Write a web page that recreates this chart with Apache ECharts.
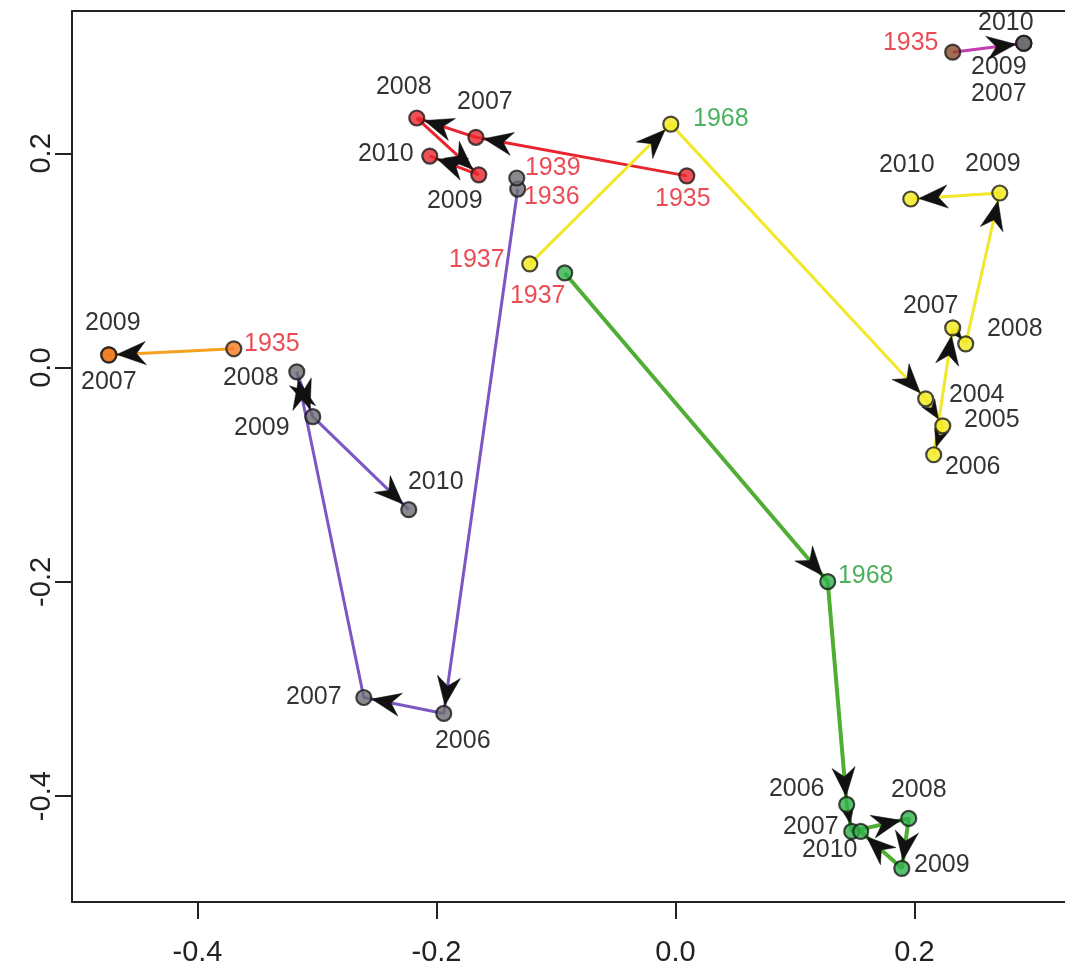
<!DOCTYPE html>
<html><head><meta charset="utf-8">
<script src="https://cdn.jsdelivr.net/npm/echarts@6/dist/echarts.min.js"></script>
<style>html,body{margin:0;padding:0;background:#fff;overflow:hidden}#c{width:1100px;height:967px}</style>
</head><body><div id="c"></div>
<script>
// ---------- data ----------
const xTickValues = [-0.4, -0.2, 0.0, 0.2];
const yTickValues = [-0.4, -0.2, 0.0, 0.2];

const redYears = ['1935', '2007', '2008', '2009', '2010'];
const redX = [0.0095, -0.167, -0.2165, -0.1646, -0.2056];
const redY = [0.179, 0.215, 0.233, 0.180, 0.1975];

const purpleYears = ['1936', '2006', '2007', '2008', '2009', '2010'];
const purpleX = [-0.132, -0.1939, -0.2608, -0.3169, -0.3035, -0.2232];
const purpleY = [0.1667, -0.3228, -0.3079, -0.0039, -0.0458, -0.1326];

const grayYears = ['1939'];
const grayX = [-0.1328];
const grayY = [0.177];

const orangeYears = ['1935', '2007', '2009'];
const orangeX = [-0.3696, -0.4742, -0.4742];
const orangeY = [0.0176, 0.0119, 0.0119];

const yellowYears = ['1937', '1968', '2004', '2005', '2006', '2007', '2008', '2009', '2010'];
const yellowX = [-0.1219, -0.0039, 0.2094, 0.2237, 0.2161, 0.232, 0.2429, 0.2714, 0.1969];
const yellowY = [0.0968, 0.2273, -0.0291, -0.0543, -0.0813, 0.0371, 0.0222, 0.163, 0.1574];

const greenYears = ['1937', '1968', '2006', '2007', '2008', '2009', '2010'];
const greenX = [-0.0927, 0.1274, 0.1433, 0.1475, 0.1952, 0.1894, 0.155];
const greenY = [0.0884, -0.1997, -0.4077, -0.4329, -0.4208, -0.4674, -0.4329];

const magentaYears = ['1935', '2007', '2009', '2010'];
const magentaX = [0.232, 0.2915, 0.2915, 0.2915];
const magentaY = [0.2945, 0.3028, 0.3028, 0.3028];

// ---------- layout / style (label offsets in px from dot centre) ----------
const redLabelOffsets = [[-4, 23], [9, -35], [-13, -31], [-24, 26], [-44, -2]];
const purpleLabelOffsets = [[34, 8], [19, 28], [-50, 0], [-46, 6], [-51, 11], [27, -28]];
const grayLabelOffsets = [[36, -10]];
const orangeLabelOffsets = [[38, -5], [0, 27], [4, -32]];
const yellowLabelOffsets = [[-53, -4], [50, -5], [51, -4], [49, -6], [39, 12], [-22, -22], [49, -15], [-7, -29], [-4, -34]];
const greenLabelOffsets = [[-27, 23], [38, -5], [-50, -15], [-41, -4], [10, -28], [40, -3], [-31, 19]];
const magentaLabelOffsets = [[-42, -9], [-25, 51], [-25, 24], [-18, -20]];

const FONT = "'Liberation Sans', Arial, Helvetica, sans-serif";
const GRAY_DOT = '#6d6d72';

const groups = [
  {years: redYears, xs: redX, ys: redY, offs: redLabelOffsets, line: '#e8252e', width: 3, fill: ['#e8252e']},
  {years: purpleYears, xs: purpleX, ys: purpleY, offs: purpleLabelOffsets, line: '#7c57c4', width: 3, fill: [GRAY_DOT]},
  {years: grayYears, xs: grayX, ys: grayY, offs: grayLabelOffsets, line: null, width: 0, fill: [GRAY_DOT]},
  {years: orangeYears, xs: orangeX, ys: orangeY, offs: orangeLabelOffsets, line: '#f4a020', width: 3, fill: ['#f07a1f']},
  {years: yellowYears, xs: yellowX, ys: yellowY, offs: yellowLabelOffsets, line: '#f2e82a', width: 3, fill: ['#f3ea1d']},
  {years: greenYears, xs: greenX, ys: greenY, offs: greenLabelOffsets, line: '#4fae33', width: 4, fill: ['#2fb24a']},
  {years: magentaYears, xs: magentaX, ys: magentaY, offs: magentaLabelOffsets, line: '#c43cb0', width: 3, fill: ['#8a4a2a', GRAY_DOT, GRAY_DOT, GRAY_DOT]}
];

function labelColor(year) {
  const y = +year;
  if (y < 1950) return '#e61e28';
  if (y === 1968) return '#1f9e36';
  return '#000000';
}

const series = [];
const arrowData = [];
groups.forEach(g => {
  const pts = g.xs.map((x, i) => [x, g.ys[i]]);
  if (g.line) {
    series.push({
      type: 'line', data: pts, showSymbol: false, symbol: 'none', z: 1,
      lineStyle: {color: g.line, width: g.width}, silent: true, animation: false
    });
    for (let i = 1; i < pts.length; i++) {
      if (pts[i][0] !== pts[i - 1][0] || pts[i][1] !== pts[i - 1][1]) {
        arrowData.push([pts[i - 1][0], pts[i - 1][1], pts[i][0], pts[i][1]]);
      }
    }
  }
  series.push({
    type: 'scatter', z: 3, animation: false, symbol: 'circle', symbolSize: 15,
    data: pts.map((p, i) => ({
      value: p, name: g.years[i],
      itemStyle: {color: g.fill[Math.min(i, g.fill.length - 1)], borderColor: '#1a1a1a', borderWidth: 2.2},
      label: {
        show: true, position: 'inside', offset: g.offs[i], formatter: g.years[i],
        color: labelColor(g.years[i]), fontSize: 25, fontFamily: FONT,
        textBorderWidth: 0, textBorderColor: 'transparent', textShadowBlur: 0
      }
    }))
  });
});

series.push({
  type: 'custom', z: 2, animation: false, data: arrowData,
  encode: {x: [0, 2], y: [1, 3]},
  renderItem: function (params, api) {
    const p1 = api.coord([api.value(0), api.value(1)]);
    const p2 = api.coord([api.value(2), api.value(3)]);
    const dx = p2[0] - p1[0], dy = p2[1] - p1[1];
    const d = Math.hypot(dx, dy);
    if (d < 1) return null;
    const ux = dx / d, uy = dy / d;
    const gap = Math.min(8, d * 0.3);
    const len = Math.min(29, (d - gap) * 0.8);
    const hw = len * 0.4, notch = len * 0.32;
    const tip = [p2[0] - ux * gap, p2[1] - uy * gap];
    const base = [tip[0] - ux * len, tip[1] - uy * len];
    const px = -uy, py = ux;
    const left = [base[0] + px * hw, base[1] + py * hw];
    const right = [base[0] - px * hw, base[1] - py * hw];
    const np = [tip[0] - ux * (len - notch), tip[1] - uy * (len - notch)];
    return {type: 'polygon', shape: {points: [tip, left, np, right]}, style: {fill: '#111', stroke: '#111', lineWidth: 0.5}};
  }
});

const axisLineStyle = {color: '#222', width: 2};
const tickStyle = {color: '#222', width: 2};
const fmt = v => v.toFixed(1).replace('-0.0', '0.0');

// plot area runs past the right edge of the 1065px window, as in the original
const option = {
  backgroundColor: '#fff',
  animation: false,
  grid: {left: 72, top: 11, right: 29, bottom: 64, show: false},
  xAxis: [{
    type: 'value', min: -0.505, max: 0.331, splitLine: {show: false},
    axisLine: {show: true, onZero: false, lineStyle: axisLineStyle},
    axisTick: {show: true, length: 17, lineStyle: tickStyle, customValues: xTickValues},
    axisLabel: {customValues: xTickValues, formatter: fmt, fontSize: 29, margin: 36, color: '#222', fontFamily: FONT}
  }, {
    type: 'value', position: 'top', min: -0.505, max: 0.331, splitLine: {show: false},
    axisLine: {show: true, onZero: false, lineStyle: axisLineStyle},
    axisTick: {show: false}, axisLabel: {show: false}
  }],
  yAxis: {
    type: 'value', min: -0.4988, max: 0.3329, splitLine: {show: false},
    axisLine: {show: true, onZero: false, lineStyle: axisLineStyle},
    axisTick: {show: true, length: 17, lineStyle: tickStyle, customValues: yTickValues},
    axisLabel: {customValues: yTickValues, formatter: fmt, rotate: 90, fontSize: 29, margin: 16, color: '#222', fontFamily: FONT}
  },
  series: series
};

const chart = echarts.init(document.getElementById('c'), null, {renderer: 'canvas'});
chart.setOption(option);
</script>
</body></html>
